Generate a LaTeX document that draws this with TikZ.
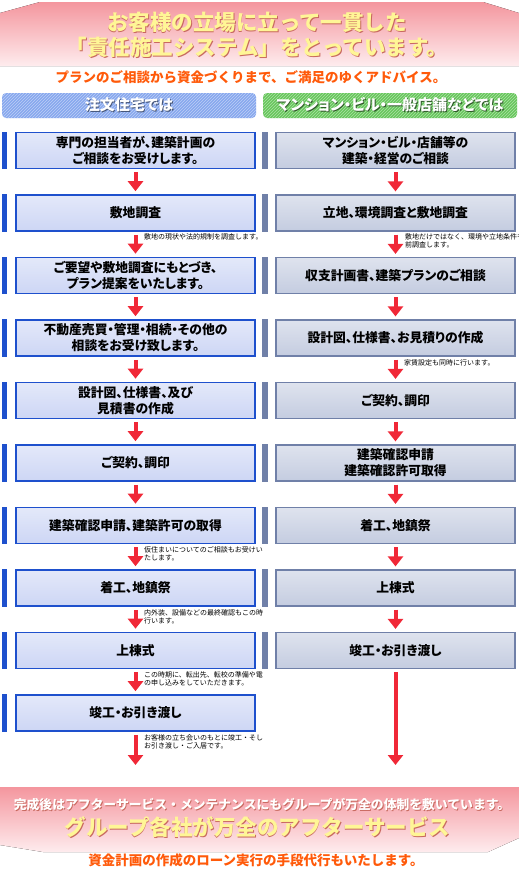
\documentclass[tikz,border=0pt]{standalone}
\usepackage{fontspec}
\setmainfont{Noto Sans CJK JP}
\newfontfamily\jpp{Noto Sans CJK JP}[RawFeature=+palt]
\usetikzlibrary{arrows.meta,patterns}

\definecolor{banpink}{RGB}{244,150,158}
\definecolor{banlight}{RGB}{254,236,238}
\definecolor{titleyel}{RGB}{255,246,150}
\definecolor{shyel}{RGB}{200,105,95}
\definecolor{subor}{RGB}{255,90,10}
\definecolor{hblue}{RGB}{135,168,238}
\definecolor{hgreen}{RGB}{104,198,92}
\definecolor{lblue}{RGB}{30,80,205}
\definecolor{lfill}{RGB}{205,214,245}
\definecolor{rgrey}{RGB}{112,128,168}
\definecolor{rfill}{RGB}{196,204,224}
\definecolor{arrred}{RGB}{240,40,55}

\newcommand{\shtext}[2]{\rlap{\kern0.9pt\raisebox{-0.9pt}{\textcolor{#1}{#2}}}#2}

\begin{document}
\begin{tikzpicture}[x=1pt, y=-1pt,
        title/.style={font=\bfseries\fontsize{21.5}{25}\selectfont, text=titleyel, align=center, inner sep=0pt},
        sub/.style={font=\bfseries\fontsize{13.5}{16}\selectfont, text=subor, inner sep=0pt},
        hdr/.style={rounded corners=4pt, minimum width=254, minimum height=25, inner sep=0pt, text=white, font=\jpp\bfseries\fontsize{15}{18}\selectfont},
        lbox/.style={draw=lblue, line width=1.6pt, top color=lfill!55!white, bottom color=lfill, minimum width=239, minimum height=36, inner sep=0pt, align=center, font=\jpp\bfseries\fontsize{12.8}{16}\selectfont},
        rbox/.style={lbox, draw=rgrey, line width=1.2pt, top color=rfill!55!white, bottom color=rfill},
        lbar/.style={fill=lblue},
        rbar/.style={fill=rgrey},
        arr/.style={draw=arrred, line width=4pt, -{Triangle[width=15pt,length=10pt]}, shorten <=3pt, shorten >=3pt},
        note/.style={anchor=west, align=left, inner sep=0pt, font=\fontsize{7}{8}\selectfont}]
    \useasboundingbox (0,0) rectangle (519,873);
    % 上部标题
    \fill[top color=banpink, bottom color=banlight] (0,13) -- (40,2) -- (483,2) -- (519,13) -- (519,66) -- (0,66) -- cycle;
    \node[title] (t1) at (257,35.5) {\shtext{shyel}{お客様の立場に立って一貫した}\\\shtext{shyel}{「責任施工システム」をとっています。}};
    \node[sub] (t2) at (251,77) {プランのご相談から資金づくりまで、ご満足のゆくアドバイス。};

    % 两列标题
    \node[hdr, preaction={fill=hblue}, pattern=north east lines, pattern color=hblue!55!white] (hl) at (129,105.5) {\shtext{hblue!50!black}{注文住宅では}};
    \node[hdr, preaction={fill=hgreen}, pattern=north east lines, pattern color=hgreen!55!white] (hr) at (390,105.5) {\shtext{hgreen!45!black}{マンション・ビル・一般店舗などでは}};

    % 左列
    \node[lbox] (l1) at (135.5,150.5) {専門の担当者が、建築計画の\\ご相談をお受けします。};
    \node[lbox] (l2) at (135.5,213) {敷地調査};
    \node[lbox] (l3) at (135.5,275.5) {ご要望や敷地調査にもとづき、\\プラン提案をいたします。};
    \node[lbox] (l4) at (135.5,338) {不動産売買・管理・相続・その他の\\相談をお受け致します。};
    \node[lbox] (l5) at (135.5,400.5) {設計図、仕様書、及び\\見積書の作成};
    \node[lbox] (l6) at (135.5,463) {ご契約、調印};
    \node[lbox] (l7) at (135.5,525.5) {建築確認申請、建築許可の取得};
    \node[lbox] (l8) at (135.5,588) {着工、地鎮祭};
    \node[lbox] (l9) at (135.5,650.5) {上棟式};
    \node[lbox] (l10) at (135.5,713) {竣工・お引き渡し};
    \coordinate (lend) at (135.5,768);

    % 右列
    \node[rbox] (r1) at (395.5,150.5) {マンション・ビル・店舗等の\\建築・経営のご相談};
    \node[rbox] (r2) at (395.5,213) {立地、環境調査と敷地調査};
    \node[rbox] (r3) at (395.5,275.5) {収支計画書、建築プランのご相談};
    \node[rbox] (r4) at (395.5,338) {設計図、仕様書、お見積りの作成};
    \node[rbox] (r5) at (395.5,400.5) {ご契約、調印};
    \node[rbox] (r6) at (395.5,463) {建築確認申請\\建築確認許可取得};
    \node[rbox] (r7) at (395.5,525.5) {着工、地鎮祭};
    \node[rbox] (r8) at (395.5,588) {上棟式};
    \node[rbox] (r9) at (395.5,650.5) {竣工・お引き渡し};
    \coordinate (rend) at (395.5,768);

    \foreach \n in {l1,l2,l3,l4,l5,l6,l7,l8,l9,l10}
        \fill[lbar] ([xshift=-13pt]\n.north west) rectangle ([xshift=-8pt]\n.south west);
    \foreach \n in {r1,r2,r3,r4,r5,r6,r7,r8,r9}
        \fill[rbar] ([xshift=-13pt]\n.north west) rectangle ([xshift=-7pt]\n.south west);

    \draw[arr] (l1) -- (l2);
    \draw[arr] (l2) -- (l3);
    \draw[arr] (l3) -- (l4);
    \draw[arr] (l4) -- (l5);
    \draw[arr] (l5) -- (l6);
    \draw[arr] (l6) -- (l7);
    \draw[arr] (l7) -- (l8);
    \draw[arr] (l8) -- (l9);
    \draw[arr] (l9) -- (l10);
    \draw[arr] (l10) -- (lend);
    \draw[arr] (r1) -- (r2);
    \draw[arr] (r2) -- (r3);
    \draw[arr] (r3) -- (r4);
    \draw[arr] (r4) -- (r5);
    \draw[arr] (r5) -- (r6);
    \draw[arr] (r6) -- (r7);
    \draw[arr] (r7) -- (r8);
    \draw[arr] (r8) -- (r9);
    \draw[arr] (r9) -- (rend);

    % 箭头旁的说明
    \begin{scope}
        \clip (0,0) rectangle (262,873);
        \node[note] (n1) at (144,237) {敷地の現状や法的規制を調査します。};
        \node[note] (n2) at (144,553.5) {仮住まいについてのご相談もお受けい\\たします。};
        \node[note] (n3) at (144,617) {内外装、設備などの最終確認もこの時期に\\行います。};
        \node[note] (n4) at (144,679) {この時期に、転出先、転校の準備や電気・ガス等\\の申し込みをしていただきます。};
        \node[note] (n5) at (144,741.5) {お客様の立ち会いのもとに竣工・そして\\お引き渡し・ご入居です。};
    \end{scope}
    \begin{scope}
        \clip (262,0) rectangle (519,873);
        \node[note] (m1) at (405,240.5) {敷地だけではなく、環境や立地条件も事\\前調査します。};
        \node[note] (m2) at (404,363) {家賃設定も同時に行います。};
    \end{scope}

    % 下部
    \fill[top color=banpink, bottom color=banlight] (0,787) -- (519,787) -- (519,838) -- (488,852) -- (43,852) -- (0,845) -- cycle;
    \node[inner sep=0pt, text=white, font=\bfseries\fontsize{12.8}{15}\selectfont] (b1) at (262,805) {\shtext{shyel}{完成後はアフターサービス・メンテナンスにもグループが万全の体制を敷いています。}};
    \node[title] (b2) at (257.5,828) {\shtext{shyel}{グループ各社が万全のアフターサービス}};
    \node[sub] (b3) at (256,860) {資金計画の作成のローン実行の手段代行もいたします。};
\end{tikzpicture}
\end{document}
